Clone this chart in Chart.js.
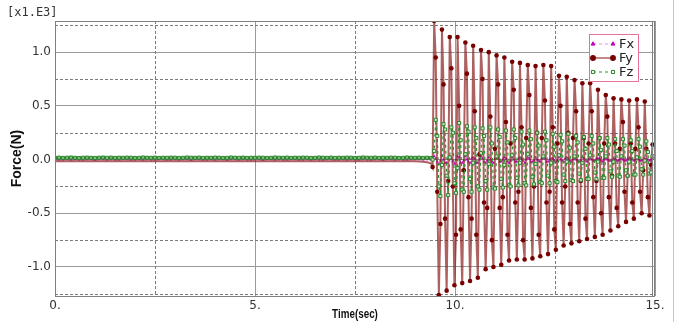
<!DOCTYPE html>
<html>
<head>
<meta charset="utf-8">
<script src="https://cdn.jsdelivr.net/npm/chart.js@4.4.1/dist/chart.umd.min.js"></script>
<style>
  html, body { margin: 0; padding: 0; background: #fff; }
  #wrap { width: 677px; height: 322px; }
</style>
</head>
<body>
<div id="wrap"><canvas id="forceChart" width="677" height="322"></canvas></div>
<script>
// sampling of the two parts of the record (seconds)
const quietStep = 0.1
const burstStart = 9.44
const burstStep = 0.039

const seriesNames = ['Fx', 'Fy', 'Fz']
const xTickLabels = ['0.', '5.', '10.', '15.']
const yTickLabels = ['-1.0', '-0.5', '0.0', '0.5', '1.0']

// quiet part, 0 .. 9.4 s  (values in kN, axis is x1.E3)
const fxQuiet = [
  0.001, 0.002, 0.000, 0.001, 0.002, 0.001, 0.000, 0.001, 0.002, 0.001,
  0.000, 0.001, 0.002, 0.001, 0.001, 0.000, 0.002, 0.001, 0.001, 0.002,
  0.000, 0.001, 0.002, 0.001, 0.000, 0.001, 0.002, 0.001, 0.001, 0.000,
  0.002, 0.001, 0.001, 0.002, 0.000, 0.001, 0.002, 0.001, 0.000, 0.001,
  0.002, 0.001, 0.001, 0.000, 0.002, 0.001, 0.001, 0.002, 0.000, 0.001,
  0.002, 0.001, 0.000, 0.001, 0.002, 0.001, 0.001, 0.000, 0.002, 0.001,
  0.001, 0.002, 0.000, 0.001, 0.002, 0.001, 0.000, 0.001, 0.002, 0.001,
  0.001, 0.000, 0.002, 0.001, 0.001, 0.000, 0.002, 0.001, 0.000, 0.001,
  0.002, 0.001, 0.000, 0.001, 0.002, 0.001, 0.001, 0.000, 0.002, 0.001,
  0.001, 0.002, 0.000, 0.001, 0.000
]
const fyQuiet = [
  -0.015, -0.014, -0.016, -0.015, -0.013, -0.015, -0.016, -0.014, -0.015, -0.015,
  -0.014, -0.016, -0.015, -0.013, -0.015, -0.016, -0.014, -0.015, -0.015, -0.014,
  -0.016, -0.015, -0.013, -0.015, -0.016, -0.014, -0.015, -0.015, -0.014, -0.016,
  -0.015, -0.013, -0.015, -0.016, -0.014, -0.015, -0.015, -0.014, -0.016, -0.015,
  -0.013, -0.015, -0.016, -0.014, -0.015, -0.015, -0.014, -0.016, -0.015, -0.013,
  -0.015, -0.016, -0.014, -0.015, -0.015, -0.014, -0.016, -0.015, -0.013, -0.015,
  -0.016, -0.014, -0.015, -0.015, -0.014, -0.016, -0.015, -0.013, -0.015, -0.016,
  -0.014, -0.015, -0.015, -0.014, -0.016, -0.015, -0.013, -0.015, -0.016, -0.014,
  -0.015, -0.015, -0.014, -0.016, -0.015, -0.013, -0.015, -0.016, -0.014, -0.015,
  -0.016, -0.018, -0.020, -0.025, -0.035
]
const fzQuiet = [
  0.016, 0.018, 0.015, 0.017, 0.019, 0.016, 0.014, 0.017, 0.018, 0.016,
  0.015, 0.017, 0.019, 0.016, 0.018, 0.015, 0.017, 0.016, 0.018, 0.017,
  0.015, 0.016, 0.019, 0.017, 0.016, 0.018, 0.015, 0.017, 0.016, 0.018,
  0.017, 0.015, 0.016, 0.019, 0.017, 0.016, 0.018, 0.015, 0.017, 0.016,
  0.018, 0.017, 0.015, 0.016, 0.019, 0.017, 0.016, 0.018, 0.015, 0.017,
  0.016, 0.018, 0.017, 0.015, 0.016, 0.019, 0.017, 0.016, 0.018, 0.015,
  0.017, 0.016, 0.018, 0.017, 0.015, 0.016, 0.019, 0.017, 0.016, 0.018,
  0.015, 0.017, 0.016, 0.018, 0.017, 0.015, 0.016, 0.019, 0.017, 0.016,
  0.018, 0.015, 0.017, 0.016, 0.018, 0.017, 0.015, 0.016, 0.019, 0.017,
  0.016, 0.018, 0.015, 0.017, 0.014
]

// oscillating part from 9.44 s, one line per cycle
const fxBurst = [
  0.000,
  0.03, 0.01, -0.02, -0.04, -0.01,
  0.04, 0.00, -0.03, -0.03, 0.01,
  0.03, 0.01, -0.02, -0.04, 0.00,
  0.03, 0.02, -0.03, -0.03, -0.01,
  0.03, 0.00, -0.02, -0.03, 0.01,
  0.02, 0.01, -0.03, -0.03, 0.00,
  0.03, 0.01, -0.02, -0.03, -0.01,
  0.02, 0.00, -0.02, -0.03, 0.01,
  0.03, 0.01, -0.02, -0.02, 0.00,
  0.02, 0.01, -0.02, -0.03, -0.01,
  0.02, 0.00, -0.02, -0.02, 0.01,
  0.02, 0.01, -0.01, -0.03, 0.00,
  0.02, 0.01, -0.02, -0.02, -0.01,
  0.02, 0.00, -0.01, -0.02, 0.01,
  0.02, 0.01, -0.02, -0.02, 0.00,
  0.01, 0.01, -0.01, -0.02, -0.01,
  0.02, 0.00, -0.01, -0.02, 0.01,
  0.02, 0.01, -0.01, -0.02, 0.00,
  0.01, 0.00, -0.01, -0.02, -0.01,
  0.02, 0.01, -0.01, -0.02, 0.00,
  0.01, 0.00, -0.01, -0.01, 0.01,
  0.01, 0.01, -0.01, -0.02, 0.00,
  0.01, 0.00, -0.01, -0.01, -0.01,
  0.01, 0.01, -0.01, -0.01, 0.00,
  0.01, 0.00, -0.01, -0.01, 0.01,
  0.01, 0.01, 0.00, -0.01, 0.00,
  0.01, 0.00, -0.01, -0.01, 0.00,
  0.01, 0.00, 0.00, -0.01, 0.00,
  0.010
]
const fyBurst = [
  -0.07,
  1.29, 0.95, -0.30, -1.26, -0.60,
  1.21, 0.70, -0.55, -1.22, -0.20,
  1.14, 0.85, -0.25, -1.17, -0.70,
  1.14, 0.50, -0.65, -1.15, -0.10,
  1.09, 0.80, -0.35, -1.13, -0.55,
  1.06, 0.45, -0.70, -1.10, 0.05,
  1.02, 0.75, -0.40, -1.02, -0.45,
  1.00, 0.40, -0.75, -1.00, 0.10,
  0.97, 0.70, -0.45, -0.98, -0.35,
  0.95, 0.35, -0.70, -0.94, 0.15,
  0.91, 0.65, -0.40, -0.93, -0.30,
  0.90, 0.30, -0.75, -0.93, 0.20,
  0.88, 0.60, -0.45, -0.92, -0.25,
  0.87, 0.25, -0.70, -0.90, 0.20,
  0.88, 0.55, -0.40, -0.88, -0.30,
  0.87, 0.30, -0.65, -0.84, 0.15,
  0.78, 0.50, -0.40, -0.80, -0.25,
  0.77, 0.25, -0.60, -0.78, 0.20,
  0.74, 0.45, -0.40, -0.76, -0.20,
  0.71, 0.20, -0.55, -0.74, 0.15,
  0.71, 0.45, -0.35, -0.72, -0.20,
  0.65, 0.20, -0.50, -0.70, 0.15,
  0.60, 0.40, -0.35, -0.66, -0.15,
  0.57, 0.15, -0.45, -0.62, 0.10,
  0.56, 0.35, -0.30, -0.58, -0.15,
  0.55, 0.15, -0.40, -0.55, 0.10,
  0.56, 0.30, -0.30, -0.50, -0.10,
  0.54, 0.10, -0.35, -0.52, -0.05,
  0.14
]
const fzBurst = [
  0.00,
  0.08, 0.37, 0.22, -0.25, -0.34,
  -0.05, 0.33, 0.28, -0.15, -0.33,
  0.02, 0.30, 0.25, -0.22, -0.31,
  -0.08, 0.34, 0.18, -0.28, -0.30,
  0.05, 0.31, 0.26, -0.18, -0.30,
  -0.03, 0.30, 0.20, -0.25, -0.28,
  0.06, 0.29, 0.22, -0.20, -0.28,
  -0.04, 0.30, 0.15, -0.26, -0.27,
  0.03, 0.28, 0.21, -0.18, -0.26,
  -0.05, 0.27, 0.16, -0.24, -0.25,
  0.04, 0.28, 0.20, -0.17, -0.24,
  -0.03, 0.26, 0.14, -0.22, -0.24,
  0.05, 0.27, 0.19, -0.16, -0.23,
  -0.04, 0.25, 0.13, -0.21, -0.22,
  0.03, 0.26, 0.18, -0.15, -0.22,
  -0.03, 0.24, 0.12, -0.20, -0.21,
  0.04, 0.23, 0.17, -0.14, -0.20,
  -0.02, 0.24, 0.11, -0.19, -0.20,
  0.03, 0.22, 0.16, -0.13, -0.19,
  -0.03, 0.21, 0.10, -0.18, -0.18,
  0.04, 0.22, 0.15, -0.12, -0.18,
  -0.02, 0.20, 0.09, -0.17, -0.17,
  0.03, 0.20, 0.14, -0.11, -0.16,
  -0.02, 0.19, 0.08, -0.15, -0.16,
  0.03, 0.19, 0.13, -0.10, -0.15,
  -0.02, 0.18, 0.08, -0.14, -0.14,
  0.02, 0.19, 0.12, -0.09, -0.14,
  -0.01, 0.17, 0.07, -0.13, -0.12,
  0.03
]

const quietTime = fxQuiet.map((v, i) => i * quietStep)
const burstTime = fxBurst.map((v, i) => burstStart + i * burstStep)
const timeSec = quietTime.concat(burstTime)

function toPoints(quiet, burst) {
  return quiet.concat(burst).map((y, i) => ({ x: timeSec[i], y: y }))
}

const styles = {
  Fx: { line: 'rgba(210,60,210,0.6)', point: '#c000c0', dash: [3, 3], shape: 'triangle' },
  Fy: { line: 'rgba(140,30,30,0.7)', point: '#780000', dash: [], shape: 'circle' },
  Fz: { line: '#2f8f2f', point: '#2a862a', dash: [3, 3], shape: 'rect' }
}

// dashed minor grid, frame and the extra labels
const decor = {
  id: 'decor',
  beforeDatasetsDraw(chart) {
    const { ctx, chartArea: a, scales } = chart
    ctx.save()
    ctx.strokeStyle = '#7a7a7a'
    ctx.lineWidth = 1
    ctx.setLineDash([3, 2])
    ;[-1.25, -0.75, -0.25, 0.25, 0.75, 1.25].forEach(v => {
      const y = Math.round(scales.y.getPixelForValue(v)) + 0.5
      ctx.beginPath(); ctx.moveTo(a.left, y); ctx.lineTo(a.right, y); ctx.stroke()
    })
    ;[2.5, 7.5, 12.5].forEach(v => {
      const x = Math.round(scales.x.getPixelForValue(v)) + 0.5
      ctx.beginPath(); ctx.moveTo(x, a.top); ctx.lineTo(x, a.bottom); ctx.stroke()
    })
    ctx.restore()
  },
  afterDraw(chart) {
    const { ctx, chartArea: a } = chart
    ctx.save()
    ctx.strokeStyle = '#808080'
    ctx.lineWidth = 1
    ctx.strokeRect(a.left + 0.5, a.top + 0.5, a.right - a.left - 1, a.bottom - a.top)
    ctx.beginPath(); ctx.moveTo(a.right - 2.5, a.top); ctx.lineTo(a.right - 2.5, a.bottom); ctx.stroke()
    ctx.strokeStyle = '#c8c8c8'
    ctx.beginPath(); ctx.moveTo(673.5, 0); ctx.lineTo(673.5, 322); ctx.stroke()

    ctx.fillStyle = '#333'
    ctx.textBaseline = 'middle'
    ctx.font = '12px "DejaVu Sans Mono"'
    ctx.textAlign = 'left'
    ctx.fillText('[x1.E3]', 7, 13)
    ctx.restore()

    // axis titles
    ctx.save()
    ctx.fillStyle = '#111'
    ctx.textAlign = 'center'
    ctx.textBaseline = 'middle'
    ctx.font = 'bold 12px "Liberation Sans"'
    ctx.translate((a.left + a.right) / 2, 315)
    ctx.scale(0.82, 1)
    ctx.fillText('Time(sec)', 0, 0)
    ctx.restore()

    ctx.save()
    ctx.fillStyle = '#111'
    ctx.textAlign = 'center'
    ctx.textBaseline = 'middle'
    ctx.translate(17, (a.top + a.bottom) / 2)
    ctx.rotate(-Math.PI / 2)
    ctx.font = 'bold 14px "Liberation Sans"'
    ctx.fillText('Force(N)', 0, 0)
    ctx.restore()

    // legend box
    ctx.save()
    const bx = 589, by = 34, bw = 49, bh = 47
    ctx.fillStyle = '#fff'
    ctx.fillRect(bx, by, bw, bh)
    ctx.strokeStyle = '#e8709a'
    ctx.strokeRect(bx + 0.5, by + 0.5, bw, bh)
    seriesNames.forEach((name, i) => {
      const s = styles[name]
      const y = by + 10 + i * 14
      ctx.strokeStyle = s.line
      ctx.lineWidth = name === 'Fy' ? 1.5 : 1
      ctx.setLineDash(s.dash)
      ctx.beginPath(); ctx.moveTo(593, y); ctx.lineTo(613, y); ctx.stroke()
      ctx.setLineDash([])
      ;[593, 613].forEach(px => {
        const opts = { pointStyle: s.shape, radius: 2.2, borderWidth: 1 }
        ctx.fillStyle = name === 'Fz' ? '#fff' : s.point
        ctx.strokeStyle = s.point
        Chart.helpers.drawPoint(ctx, opts, px, y)
      })
      ctx.fillStyle = '#222'
      ctx.font = '13px "DejaVu Sans"'
      ctx.textAlign = 'left'
      ctx.textBaseline = 'middle'
      ctx.fillText(name, 619, y + 1)
    })
    ctx.restore()
  }
}

const ctx = document.getElementById('forceChart')
const forceChart = new Chart(ctx, {
  type: 'line',
  data: {
    datasets: [
      {
        label: 'Fz',
        data: toPoints(fzQuiet, fzBurst),
        borderColor: styles.Fz.line,
        borderWidth: 1.2,
        borderDash: styles.Fz.dash,
        pointStyle: 'rect',
        pointRadius: 2.2,
        pointBorderWidth: 1,
        pointBorderColor: styles.Fz.point,
        pointBackgroundColor: c => (c.raw && c.raw.x < burstStart ? 'rgba(120,190,120,0.9)' : 'rgba(225,242,225,0.85)'),
        order: 0
      },
      {
        label: 'Fy',
        data: toPoints(fyQuiet, fyBurst),
        borderColor: styles.Fy.line,
        borderWidth: 2,
        pointStyle: 'circle',
        pointRadius: c => (c.raw && c.raw.x < burstStart ? 0 : 2.3),
        pointBorderWidth: 0,
        pointBackgroundColor: styles.Fy.point,
        order: 1
      },
      {
        label: 'Fx',
        data: toPoints(fxQuiet, fxBurst),
        borderColor: styles.Fx.line,
        borderWidth: 1,
        borderDash: styles.Fx.dash,
        pointStyle: 'triangle',
        pointRadius: 1.8,
        pointBorderWidth: 0,
        pointBackgroundColor: styles.Fx.point,
        order: 2
      }
    ]
  },
  options: {
    responsive: false,
    animation: false,
    devicePixelRatio: 1,
    layout: { padding: { top: 21, right: 22, left: 0, bottom: 0 } },
    plugins: { legend: { display: false }, tooltip: { enabled: false } },
    elements: { line: { tension: 0 } },
    scales: {
      x: {
        type: 'linear',
        min: 0,
        max: 15,
        afterBuildTicks: s => { s.ticks = [0, 2.5, 5, 7.5, 10, 12.5, 15].map(v => ({ value: v })) },
        afterFit: s => { s.height = 26 },
        ticks: {
          autoSkip: false,
          maxRotation: 0,
          padding: 3,
          color: '#333',
          font: { family: 'DejaVu Sans', size: 12 },
          callback: v => (v % 5 === 0 ? xTickLabels[v / 5] : '')
        },
        grid: {
          drawTicks: false,
          color: c => (c.tick && c.tick.value % 5 === 0 ? '#9a9a9a' : 'rgba(0,0,0,0)')
        },
        border: { display: false }
      },
      y: {
        min: -1.27,
        max: 1.29,
        afterBuildTicks: s => {
          s.ticks = [-1.25, -1, -0.75, -0.5, -0.25, 0, 0.25, 0.5, 0.75, 1, 1.25].map(v => ({ value: v }))
        },
        afterFit: s => { s.width = 55 },
        ticks: {
          autoSkip: false,
          padding: 4,
          color: '#333',
          font: { family: 'DejaVu Sans', size: 12 },
          callback: v => {
            const k = Math.round(v * 2)
            return Math.abs(v * 2 - k) < 1e-6 ? yTickLabels[k + 2] : ''
          }
        },
        grid: {
          drawTicks: false,
          color: c => {
            const v = c.tick ? c.tick.value * 2 : 0.5
            return Math.abs(v - Math.round(v)) < 1e-6 ? '#9a9a9a' : 'rgba(0,0,0,0)'
          }
        },
        border: { display: false }
      }
    }
  },
  plugins: [decor]
})
</script>
</body>
</html>
